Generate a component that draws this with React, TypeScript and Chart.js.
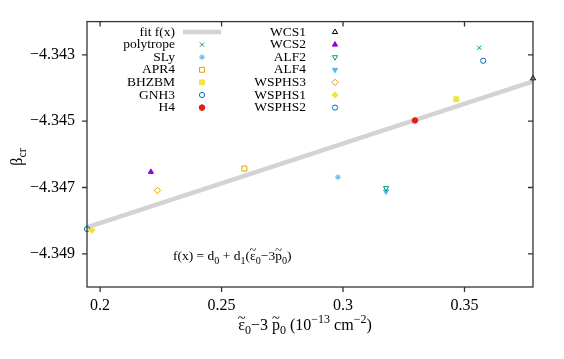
import React, { useEffect, useRef } from "react";
import { Chart, registerables } from "chart.js";
import { drawPoint } from "chart.js/helpers";

Chart.register(...registerables);

const FONT = '"Liberation Serif", "Times New Roman", serif';

// ---- data ----
const seriesNames = ["polytrope", "SLy", "APR4", "BHZBM", "GNH3", "H4", "WCS1", "WCS2", "ALF2", "ALF4", "WSPHS3", "WSPHS1", "WSPHS2"];
const xValues = [0.3561, 0.2979, 0.2594, 0.3466, 0.3577, 0.3296, 0.3782, 0.2209, 0.3177, 0.3177, 0.2236, 0.1966, 0.1946];
const yValues = [-4.34279, -4.34669, -4.34643, -4.34434, -4.34318, -4.34498, -4.34371, -4.34653, -4.34702, -4.34712, -4.34709, -4.34829, -4.34825];
const fitLabel = "fit f(x)";
const fitX = [0.1946, 0.3782];
const fitY = [-4.3482, -4.3438];
const xTicks = [0.2, 0.25, 0.3, 0.35];
const yTicks = [-4.349, -4.347, -4.345, -4.343];
const xRange = [0.1946, 0.3782];
const yRange = [-4.35, -4.342];

// ---- styles ----
const styles = [
  { c: "#009e73", s: "crossRot", f: false, r: 0, rad: 3 },
  { c: "#56b4e9", s: "star", f: false, r: 0, rad: 3 },
  { c: "#e69f00", s: "rect", f: false, r: 0, rad: 3.5 },
  { c: "#f0e442", s: "rect", f: true, r: 0, rad: 3.5 },
  { c: "#0072b2", s: "circle", f: false, r: 0, rad: 2.6 },
  { c: "#e51e10", s: "circle", f: true, r: 0, rad: 2.8 },
  { c: "#000000", s: "triangle", f: false, r: 0, rad: 3 },
  { c: "#9400d3", s: "triangle", f: true, r: 0, rad: 3 },
  { c: "#009e73", s: "triangle", f: false, r: 180, rad: 3 },
  { c: "#56b4e9", s: "triangle", f: true, r: 180, rad: 3 },
  { c: "#e69f00", s: "rectRot", f: false, r: 0, rad: 3.2 },
  { c: "#f0e442", s: "rectRot", f: true, r: 0, rad: 3.2 },
  { c: "#0072b2", s: "circle", f: false, r: 0, rad: 2.6 },
];

type Seg = { t: string; m?: "sub" | "sup"; tl?: boolean };

function drawRich(ctx: CanvasRenderingContext2D, segs: Seg[], x: number, y: number, size: number, align: "left" | "center" | "right") {
  const widths = segs.map((s) => {
    ctx.font = `${s.m ? size * 0.75 : size}px ${FONT}`;
    return ctx.measureText(s.t).width;
  });
  const total = widths.reduce((a, b) => a + b, 0);
  let cx = align === "center" ? x - total / 2 : align === "right" ? x - total : x;
  ctx.textBaseline = "alphabetic";
  segs.forEach((s, i) => {
    const fs = s.m ? size * 0.75 : size;
    ctx.font = `${fs}px ${FONT}`;
    ctx.textAlign = "left";
    const dy = s.m === "sub" ? size * 0.28 : s.m === "sup" ? -size * 0.42 : 0;
    ctx.fillText(s.t, cx, y + dy);
    if (s.tl) {
      ctx.font = `${size * 0.9}px ${FONT}`;
      ctx.textAlign = "center";
      ctx.fillText("~", cx + widths[i] / 2, y - size * 0.45);
      ctx.textAlign = "left";
    }
    cx += widths[i];
  });
}

const decorPlugin = {
  id: "decor",
  afterDraw(chart: any) {
    const ctx: CanvasRenderingContext2D = chart.ctx;
    const a = chart.chartArea;
    const xs = chart.scales.x;
    const ys = chart.scales.y;
    ctx.save();
    // border
    ctx.strokeStyle = "#333";
    ctx.lineWidth = 1.3;
    ctx.strokeRect(a.left, a.top, a.right - a.left, a.bottom - a.top);
    // ticks
    ctx.beginPath();
    xTicks.forEach((v) => {
      const px = xs.getPixelForValue(v);
      ctx.moveTo(px, a.bottom);
      ctx.lineTo(px, a.bottom + 5);
      ctx.moveTo(px, a.top);
      ctx.lineTo(px, a.top + 5);
    });
    yTicks.forEach((v) => {
      const py = ys.getPixelForValue(v);
      ctx.moveTo(a.left, py);
      ctx.lineTo(a.left - 5, py);
      ctx.moveTo(a.right, py);
      ctx.lineTo(a.right - 5, py);
    });
    ctx.stroke();

    // legend
    ctx.fillStyle = "#000";
    ctx.font = `13.5px ${FONT}`;
    ctx.textBaseline = "middle";
    ctx.textAlign = "right";
    const rowY = (i: number) => 32 + i * 12.6;
    ctx.fillText(fitLabel, 175, rowY(0));
    ctx.strokeStyle = "#d3d3d3";
    ctx.lineWidth = 4.5;
    ctx.beginPath();
    ctx.moveTo(183, rowY(0));
    ctx.lineTo(221, rowY(0));
    ctx.stroke();
    seriesNames.forEach((name, i) => {
      const col = i < 6 ? 0 : 1;
      const row = i < 6 ? i + 1 : i - 6;
      const tx = col === 0 ? 175 : 306;
      const mx = col === 0 ? 202 : 335;
      ctx.fillStyle = "#000";
      ctx.font = `13.5px ${FONT}`;
      ctx.textBaseline = "middle";
      ctx.textAlign = "right";
      ctx.fillText(name, tx, rowY(row));
      const st = styles[i];
      ctx.strokeStyle = st.c;
      ctx.fillStyle = st.f ? st.c : "rgba(0,0,0,0)";
      ctx.lineWidth = 1;
      drawPoint(ctx, { pointStyle: st.s, rotation: st.r, radius: st.rad, borderWidth: 1 } as any, mx, rowY(row));
    });

    // formula
    ctx.fillStyle = "#000";
    drawRich(
      ctx,
      [
        { t: "f(x) = d" },
        { t: "0", m: "sub" },
        { t: " + d" },
        { t: "1", m: "sub" },
        { t: "(" },
        { t: "ε", tl: true },
        { t: "0", m: "sub" },
        { t: "−3" },
        { t: "p", tl: true },
        { t: "0", m: "sub" },
        { t: ")" },
      ],
      173,
      260,
      13.5,
      "left"
    );

    // x title
    drawRich(
      ctx,
      [
        { t: "ε", tl: true },
        { t: "0", m: "sub" },
        { t: "−3 " },
        { t: "p", tl: true },
        { t: "0", m: "sub" },
        { t: " (10" },
        { t: "−13", m: "sup" },
        { t: " cm" },
        { t: "−2", m: "sup" },
        { t: ")" },
      ],
      305,
      330,
      16,
      "center"
    );

    // y title
    ctx.save();
    ctx.translate(22, 157);
    ctx.rotate(-Math.PI / 2);
    drawRich(ctx, [{ t: "β" }, { t: "cr", m: "sub" }], 0, 0, 16, "center");
    ctx.restore();

    ctx.restore();
  },
};

export default function App() {
  const ref = useRef<HTMLCanvasElement>(null);
  useEffect(() => {
    if (!ref.current) return;
    const datasets: any[] = [
      {
        type: "line",
        label: fitLabel,
        data: fitX.map((x, i) => ({ x, y: fitY[i] })),
        borderColor: "#d3d3d3",
        borderWidth: 4.5,
        pointRadius: 0,
        fill: false,
        clip: false,
        order: 2,
      },
      ...seriesNames.map((name, i) => {
        const st = styles[i];
        return {
          type: "scatter",
          label: name,
          data: [{ x: xValues[i], y: yValues[i] }],
          pointStyle: st.s,
          rotation: st.r,
          pointRadius: st.rad,
          borderColor: st.c,
          backgroundColor: st.f ? st.c : "rgba(0,0,0,0)",
          borderWidth: 1,
          clip: false,
          order: 1,
        };
      }),
    ];
    const chart = new Chart(ref.current, {
      type: "scatter",
      data: { datasets },
      options: {
        animation: false,
        responsive: false,
        maintainAspectRatio: false,
        layout: { padding: { left: 0, right: 31, top: 21, bottom: 0 } },
        plugins: { legend: { display: false }, tooltip: { enabled: false }, title: { display: false } },
        scales: {
          x: {
            type: "linear",
            min: xRange[0],
            max: xRange[1],
            grid: { display: false, drawTicks: false },
            border: { display: false },
            afterBuildTicks: (s: any) => {
              s.ticks = xTicks.map((v) => ({ value: v }));
            },
            afterFit: (s: any) => {
              s.height = 72;
            },
            ticks: {
              padding: 9,
              color: "#000",
              font: { family: FONT, size: 16 },
              maxRotation: 0,
              callback: (v: any) => String(v),
            },
          },
          y: {
            type: "linear",
            min: yRange[0],
            max: yRange[1],
            grid: { display: false, drawTicks: false },
            border: { display: false },
            afterBuildTicks: (s: any) => {
              s.ticks = yTicks.map((v) => ({ value: v }));
            },
            afterFit: (s: any) => {
              s.width = 87;
            },
            ticks: {
              padding: 12,
              color: "#000",
              font: { family: FONT, size: 16 },
              callback: (v: any) => "−" + Math.abs(Number(v)).toFixed(3),
            },
          },
        },
      } as any,
      plugins: [decorPlugin],
    });
    return () => chart.destroy();
  }, []);
  return (
    <div style={{ position: "fixed", left: 0, top: 0, width: 564, height: 359, background: "#fff" }}>
      <canvas ref={ref} width={564} height={359} style={{ width: 564, height: 359, display: "block" }} />
    </div>
  );
}
